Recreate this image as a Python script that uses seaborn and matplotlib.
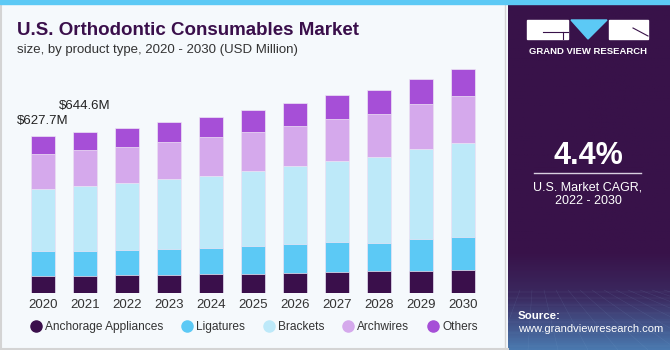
import numpy as np
import pandas as pd
import matplotlib
matplotlib.use("Agg")
import matplotlib.pyplot as plt
from matplotlib.patches import Rectangle, Polygon
from matplotlib.lines import Line2D
from matplotlib.colors import LinearSegmentedColormap
import seaborn as sns

# Data: U.S. Orthodontic Consumables Market by product type (USD Million)
years = ['2020', '2021', '2022', '2023', '2024', '2025', '2026', '2027', '2028', '2029', '2030']
segments = ['Anchorage Appliances', 'Ligatures', 'Brackets', 'Archwires', 'Others']
anchorage = [67, 67, 72, 72, 77, 77, 81, 83, 87, 87, 91]
ligatures = [101, 100, 101, 105, 105, 113, 116, 120, 115, 130, 135]
brackets = [250, 263, 270, 279, 289, 300, 314, 328, 342, 362, 377]
archwires = [140, 144, 144, 150, 154, 155, 159, 167, 172, 179, 188]
others = [70, 71, 74, 79, 80, 87, 91, 95, 99, 101, 107]
labels = {'2020': '$627.7M', '2021': '$644.6M'}
colors = ['#3A0F4B', '#5CC9F5', '#BDE9F9', '#D5A9EC', '#A64FD7']

df = pd.DataFrame({'Year': years, 'Anchorage Appliances': anchorage, 'Ligatures': ligatures,
                   'Brackets': brackets, 'Archwires': archwires, 'Others': others})
cum = df[segments].cumsum(axis=1)

W, H = 670, 350
fig = plt.figure(figsize=(6.7, 3.5), dpi=100)
fig.patch.set_facecolor('#F5F9FC')
plt.rcParams['font.family'] = ['Liberation Sans', 'DejaVu Sans']

ax = fig.add_axes([22 / W, (H - 293) / H, 462 / W, (293 - 60) / H])
ax.set_facecolor('none')

# stacked bars: draw cumulative totals from top segment down
for seg, col in reversed(list(zip(segments, colors))):
    sns.barplot(x=df['Year'], y=cum[seg], order=years, color=col, saturation=1,
                width=0.57, errorbar=None, edgecolor='#EEE6F5', linewidth=0.5, ax=ax)

ax.set_xlim(-0.5, 10.5)
ax.set_ylim(0, 233 * 4.01)
for s in ax.spines.values():
    s.set_visible(False)
ax.set_yticks([])
ax.set_xlabel('')
ax.set_ylabel('')
ax.tick_params(axis='x', length=0, pad=4, labelsize=9.5, labelcolor='#333333')

totals = cum['Others'].values
offs = {'2020': 15, '2021': 26}
for yr, txt in labels.items():
    i = years.index(yr)
    ax.text(i, totals[i] + offs[yr] * 4.01, txt, ha='center', va='center',
            fontsize=9.5, color='#222222')

# titles
fig.text(17 / W, 1 - 35 / H, 'U.S. Orthodontic Consumables Market', fontsize=13.5,
         fontweight='bold', color='#3A0F4B', va='baseline')
fig.text(17 / W, 1 - 53 / H, 'size, by product type, 2020 - 2030 (USD Million)',
         fontsize=9.5, color='#333333', va='baseline')

# legend
handles = [Line2D([], [], marker='o', linestyle='', markersize=8, markerfacecolor=c,
                  markeredgecolor=c) for c in colors]
fig.legend(handles, segments, loc='center', bbox_to_anchor=(254 / W, 1 - 327 / H), ncol=5,
           frameon=False, fontsize=8.6, handletextpad=0.25, columnspacing=1.5,
           labelcolor='#333333', handlelength=1.0)

# borders and top stripe
fig.add_artist(Line2D([1 / W, 1 / W], [0, 1], color='#D4D4D4', lw=1.5, transform=fig.transFigure))
fig.add_artist(Line2D([0, 508 / W], [1.5 / H, 1.5 / H], color='#D4D4D4', lw=1.5, transform=fig.transFigure))
fig.add_artist(Line2D([505 / W, 505 / W], [0, 1], color='#D4D4D4', lw=1, transform=fig.transFigure))
fig.add_artist(Rectangle((0, 1 - 4 / H), 1, 4 / H, color='#5CC9F5', transform=fig.transFigure, zorder=5))

# right panel
pax = fig.add_axes([508 / W, 0, 162 / W, 346 / H])
pax.set_xlim(508, 670)
pax.set_ylim(350, 4)
pax.axis('off')
grad = np.linspace(0, 1, 200)[:, None]
cmap = LinearSegmentedColormap.from_list('panel', [(0, '#381249'), (0.72, '#381249'),
                                                    (0.85, '#3B2A60'), (1.0, '#4A78AE')])
pax.imshow(grad, extent=(508, 670, 350, 4), aspect='auto', cmap=cmap, zorder=0)
# faint grid near the bottom
for k in range(-12, 20):
    pax.plot([508 + k * 12, 588 + (k - 4) * 30], [290, 350], color='#8FB3DA', lw=0.3, alpha=0.18, zorder=1)
for yy in [292, 298, 305, 313, 322, 333, 346]:
    pax.plot([508, 670], [yy, yy], color='#8FB3DA', lw=0.3, alpha=0.18, zorder=1)

# logo
pax.add_patch(Rectangle((527, 20), 41, 19, color='white', zorder=2))
pax.plot([543, 568], [32, 32], color='#381249', lw=0.8, zorder=3)
pax.plot([563, 563], [32, 39], color='#381249', lw=0.8, zorder=3)
pax.add_patch(Polygon([(571, 20), (607, 20), (588, 39)], color='#5CC9F5', zorder=2))
pax.add_patch(Rectangle((609, 20), 39, 19, color='white', zorder=2))
pax.plot([633, 648], [28, 36], color='#381249', lw=0.8, zorder=3)
pax.text(588, 51, 'GRAND VIEW RESEARCH', ha='center', va='center', fontsize=6.8,
         fontweight='bold', color='white', zorder=3)

pax.text(588, 156, '4.4%', ha='center', va='center', fontsize=22, fontweight='bold', color='white')
pax.plot([534, 641], [173, 173], color='#D8D0E0', lw=1)
pax.text(588, 187, 'U.S. Market CAGR,', ha='center', va='center', fontsize=9, color='white')
pax.text(588, 201, '2022 - 2030', ha='center', va='center', fontsize=9, color='white')
pax.text(518, 316, 'Source:', ha='left', va='center', fontsize=8.2, fontweight='bold', color='white', zorder=3)
pax.text(518, 329, 'www.grandviewresearch.com', ha='left', va='center', fontsize=8, color='white', zorder=3)

fig.savefig('out.png', dpi=100, facecolor=fig.get_facecolor())
